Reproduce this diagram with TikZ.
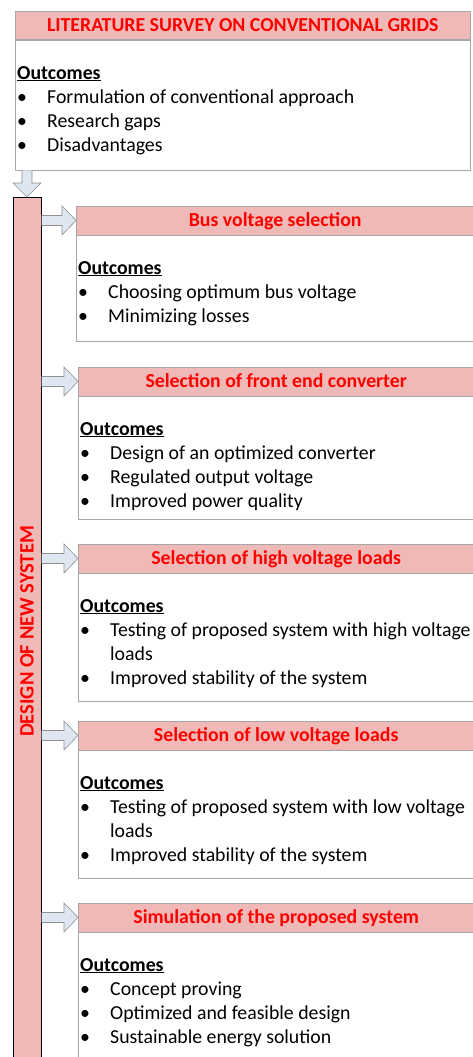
\documentclass[tikz,border=0pt]{standalone}
\usepackage{fontspec}
\setmainfont{Carlito}
\usetikzlibrary{positioning,calc}
\definecolor{headpink}{HTML}{EEB9B6}
\definecolor{feedblue}{HTML}{DEE6F2}
\definecolor{feedgray}{HTML}{909090}
\definecolor{panelgray}{HTML}{A6A6A6}
\tikzstyle{head}=[draw=panelgray, fill=headpink, text=red, font=\fontsize{19.8}{24}\selectfont\bfseries, minimum height=28.5pt, text height=13pt, text depth=0pt, inner sep=0pt, anchor=north west]
\tikzstyle{panel}=[draw=panelgray, inner sep=0pt]
\tikzstyle{items}=[inner sep=0pt, font=\fontsize{19.8}{24}\selectfont]
\tikzstyle{column}=[draw=black, fill=headpink, line width=1pt, inner sep=0pt]
\tikzstyle{feed}=[draw=feedgray, fill=feedblue, line width=0.6pt, line join=miter]
\newcommand{\outcomes}[1]{%
  \begin{tabular}{@{}p{30pt}@{}l@{}}
    \multicolumn{2}{@{}l@{}}{\textbf{\underline{Outcomes}}}\\
    #1
  \end{tabular}%
}
\newcommand{\bulletmark}{\hspace*{0pt}\textbullet}

\begin{document}
\begin{tikzpicture}[x=1pt, y=1pt]
    \useasboundingbox (0,0) rectangle (472,-1057);
    % literature survey
    \node[head, minimum width=455pt] (h0) at (15,-11) {LITERATURE SURVEY ON CONVENTIONAL GRIDS};
    \node[panel, below=0pt of h0, minimum width=455pt, minimum height=130pt] (p0) {};
    \node[items, below right=22.2pt and 2pt of h0.south west] (o0) {\outcomes{
      \bulletmark & Formulation of conventional approach\\
      \bulletmark & Research gaps\\
      \bulletmark & Disadvantages\\}};
    % design stages
    \node[head, minimum width=398pt] (h1) at (76,-206) {Bus voltage selection};
    \node[panel, below=0pt of h1, minimum width=398pt, minimum height=106pt] (p1) {};
    \node[items, below right=22.2pt and 2pt of h1.south west] (o1) {\outcomes{
      \bulletmark & Choosing optimum bus voltage\\
      \bulletmark & Minimizing losses\\}};
    \node[head, minimum width=396pt] (h2) at (78,-367) {Selection of front end converter};
    \node[panel, below=0pt of h2, minimum width=396pt, minimum height=123pt] (p2) {};
    \node[items, below right=22.2pt and 2pt of h2.south west] (o2) {\outcomes{
      \bulletmark & Design of an optimized converter\\
      \bulletmark & Regulated output voltage\\
      \bulletmark & Improved power quality\\}};
    \node[head, minimum width=396pt] (h3) at (78,-544) {Selection of high voltage loads};
    \node[panel, below=0pt of h3, minimum width=396pt, minimum height=128pt] (p3) {};
    \node[items, below right=22.2pt and 2pt of h3.south west] (o3) {\outcomes{
      \bulletmark & Testing of proposed system with high voltage\\
           & loads\\
      \bulletmark & Improved stability of the system\\}};
    \node[head, minimum width=396pt] (h4) at (78,-721) {Selection of low voltage loads};
    \node[panel, below=0pt of h4, minimum width=396pt, minimum height=128pt] (p4) {};
    \node[items, below right=22.2pt and 2pt of h4.south west] (o4) {\outcomes{
      \bulletmark & Testing of proposed system with low voltage\\
           & loads\\
      \bulletmark & Improved stability of the system\\}};
    \node[head, minimum width=396pt] (h5) at (78,-903) {Simulation of the proposed system};
    \node[panel, below=0pt of h5, minimum width=396pt, minimum height=145pt] (p5) {};
    \node[items, below right=22.2pt and 2pt of h5.south west] (o5) {\outcomes{
      \bulletmark & Concept proving\\
      \bulletmark & Optimized and feasible design\\
      \bulletmark & Sustainable energy solution\\}};
    % design column
    \node[column, minimum width=28pt, minimum height=868pt, anchor=north] (bar) at (27,-197) {};
    \node[rotate=90, text=red, font=\fontsize{20.5}{24}\selectfont\bfseries] (design) at (bar.center) {DESIGN OF NEW SYSTEM};
    % arrows
    \draw[feed] ($(bar.north |- p0.south)+(-5,0)$) -- ($(bar.north)+(-5,14)$) -- ($(bar.north)+(-14,14)$)
      -- (bar.north) -- ($(bar.north)+(14,14)$) -- ($(bar.north)+(5,14)$) -- ($(bar.north |- p0.south)+(5,0)$);
    \foreach \h in {h1,h2,h3,h4,h5}
      \draw[feed] ($(bar.east |- \h.west)+(0,5)$) -- ($(\h.west)+(-14,5)$) -- ($(\h.west)+(-14,14.5)$)
        -- (\h.west) -- ($(\h.west)+(-14,-14.5)$) -- ($(\h.west)+(-14,-5)$) -- ($(bar.east |- \h.west)+(0,-5)$);
  \end{tikzpicture}
\end{document}
